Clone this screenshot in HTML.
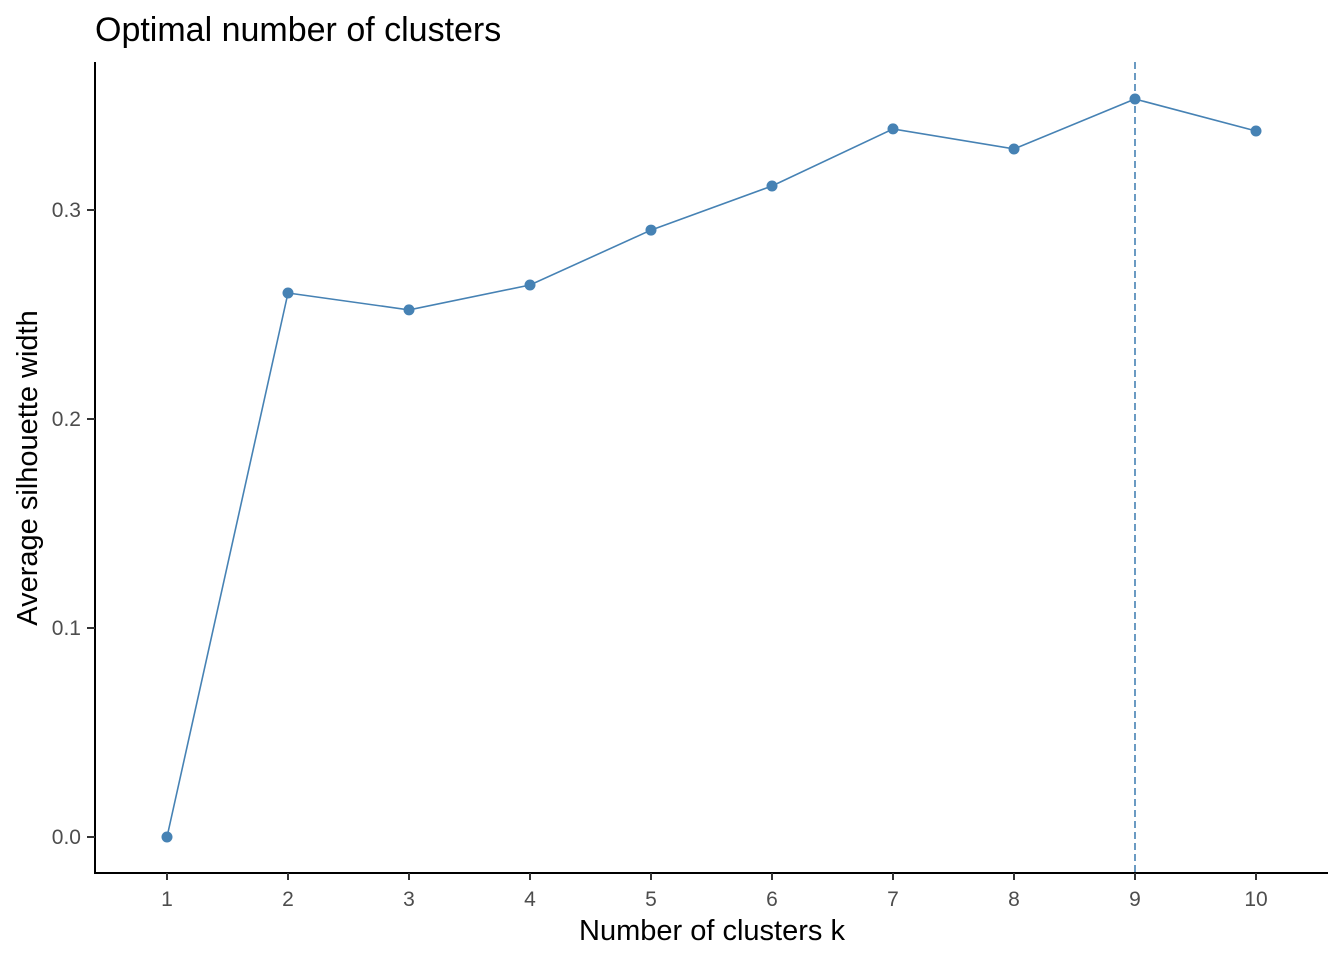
<!DOCTYPE html>
<html><head><meta charset="utf-8"><style>
body{margin:0;background:#fff;}
svg{display:block;font-family:"Liberation Sans",Arial,sans-serif;}
</style></head><body>
<svg id="chart" width="1344" height="960">
<text x="95" y="41" font-size="34" fill="#000">Optimal number of clusters</text>
<text x="712" y="940" font-size="29" text-anchor="middle" fill="#000">Number of clusters k</text>
<text transform="translate(37,468) rotate(-90)" font-size="29" text-anchor="middle" fill="#000">Average silhouette width</text>
<line x1="95" y1="62" x2="95" y2="874" stroke="#000" stroke-width="2"/>
<line x1="94" y1="873" x2="1328" y2="873" stroke="#000" stroke-width="2"/>
<g id="xticks"></g><g id="yticks"></g><g id="marks"></g>
</svg>
<script>
const categories=[1,2,3,4,5,6,7,8,9,10];
const silhouette=[0,0.2603,0.2522,0.2641,0.2904,0.3115,0.3388,0.3292,0.3531,0.3378];
const yTicks=[0,0.1,0.2,0.3];
const yTickLabels=["0.0","0.1","0.2","0.3"];
const optimalK=9;
const NS="http://www.w3.org/2000/svg";
const xs=k=>167+(k-1)*121;
const ys=v=>837-v*2090;
function mk(tag,attrs,parent){const e=document.createElementNS(NS,tag);for(const k in attrs)e.setAttribute(k,attrs[k]);parent.appendChild(e);return e;}
const xt=document.getElementById('xticks'),yt=document.getElementById('yticks'),mg=document.getElementById('marks');
categories.forEach(k=>{
 const l=mk('line',{x1:xs(k),x2:xs(k),y1:873,y2:880,stroke:'#333','stroke-width':2},xt);
 
 
 const t=mk('text',{x:xs(k),y:906,'font-size':21,'text-anchor':'middle',fill:'#4d4d4d'},xt);
 t.textContent=k;
 
 
});
yTicks.forEach((v,i)=>{
 const l=mk('line',{x1:87,x2:95,y1:ys(v),y2:ys(v),stroke:'#333','stroke-width':2},yt);
 
 
 const t=mk('text',{x:81,y:ys(v)+7,'font-size':21,'text-anchor':'end',fill:'#4d4d4d'},yt);
 t.textContent=yTickLabels[i];
 
 
});
const vl=mk('line',{x1:xs(optimalK),x2:xs(optimalK),y1:62,y2:873,stroke:'#4682b4','stroke-width':1.6,'stroke-dasharray':'7,4'},mg);


const pl=mk('polyline',{points:categories.map((k,i)=>xs(k)+','+ys(silhouette[i])).join(' '),fill:'none',stroke:'#4682b4','stroke-width':1.6},mg);


categories.forEach((k,i)=>{
 const c=mk('circle',{cx:xs(k),cy:ys(silhouette[i]),r:5.5,fill:'#4682b4'},mg);
 
 
});
</script>
</body></html>
